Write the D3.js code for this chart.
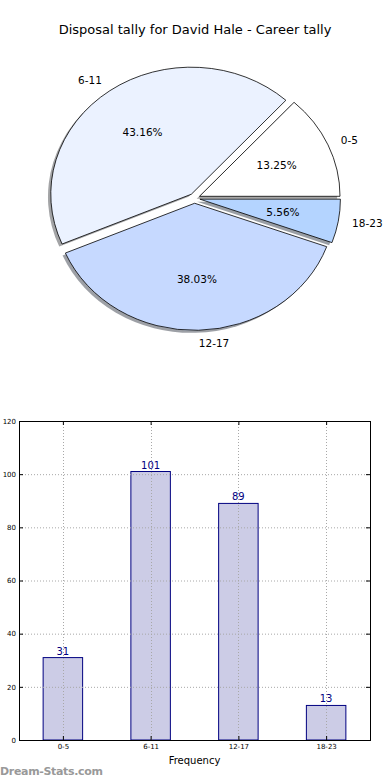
<!DOCTYPE html>
<html><head><meta charset="utf-8">
<script src="https://cdn.jsdelivr.net/npm/d3@7"></script>
<style>html,body{margin:0;padding:0;background:#fff}svg{display:block}</style>
</head><body>
<svg id="c" width="390" height="780"></svg>
<script>
const categories = ["0-5", "6-11", "12-17", "18-23"];
const values = [31, 101, 89, 13];
const sliceColors = ["#ffffff", "#ebf2ff", "#c6d9ff", "#b4d4ff"];
const yTicks = [0, 20, 40, 60, 80, 100, 120];
const title = "Disposal tally for David Hale - Career tally";

const svg = d3.select("#c");
const font = "DejaVu Sans, sans-serif";

svg.append("text").attr("x", 195).attr("y", 34).attr("text-anchor", "middle")
  .attr("font-family", font).attr("font-size", 13).attr("fill", "#000").text(title);

// ---- Pie ----
const cx = 194.5, cy = 198.3, rx = 140.5, ry = 127, explode = 0.039;
const total = d3.sum(values);
const pie = d3.pie().sort(null).startAngle(Math.PI / 2).endAngle(Math.PI / 2 - 2 * Math.PI);
const arcs = pie(values);
const arc = d3.arc().innerRadius(0).outerRadius(1);
const g = svg.append("g").attr("transform", `translate(${cx},${cy})`);
const off = d => { const m = (d.startAngle + d.endAngle) / 2; return [Math.sin(m), -Math.cos(m)]; };

// shadows
g.selectAll("path.sh").data(arcs).join("path").attr("class", "sh")
  .attr("d", arc)
  .attr("transform", d => { const [ux, uy] = off(d); return `translate(${(ux * explode - 0.02) * rx},${(uy * explode + 0.02) * ry}) scale(${rx},${ry})`; })
  .attr("fill", (d, i) => { const c = d3.rgb(sliceColors[i]); return d3.rgb(c.r * 0.3, c.g * 0.3, c.b * 0.3); })
  .attr("fill-opacity", 0.5).attr("stroke", "none");

g.selectAll("path.w").data(arcs).join("path").attr("class", "w")
  .attr("d", arc)
  .attr("transform", d => { const [ux, uy] = off(d); return `translate(${ux * explode * rx},${uy * explode * ry}) scale(${rx},${ry})`; })
  .attr("fill", (d, i) => sliceColors[i])
  .attr("stroke", "#000").attr("stroke-width", 0.8).attr("vector-effect", "non-scaling-stroke");

g.selectAll("text.lab").data(arcs).join("text").attr("class", "lab")
  .attr("x", d => off(d)[0] * (explode + 1.1) * rx)
  .attr("y", d => off(d)[1] * (explode + 1.1) * ry)
  .attr("dy", "0.35em")
  .attr("text-anchor", d => off(d)[0] >= 0 ? "start" : "end")
  .attr("font-family", font).attr("font-size", 10.5).attr("fill", "#000")
  .text((d, i) => categories[i]);

g.selectAll("text.pct").data(arcs).join("text").attr("class", "pct")
  .attr("x", d => off(d)[0] * (explode + 0.6) * rx)
  .attr("y", d => off(d)[1] * (explode + 0.6) * ry)
  .attr("dy", "0.35em").attr("text-anchor", "middle")
  .attr("font-family", font).attr("font-size", 10.5).attr("fill", "#000")
  .text(d => (d.value / total * 100).toFixed(2) + "%");

// ---- Bar chart ----
const L = 19, R = 370, T = 421, B = 740;
const x = d3.scaleLinear().domain([-0.5, categories.length - 0.5]).range([L, R]);
const y = d3.scaleLinear().domain([0, 120]).range([B, T]);
const bw = x(0.45) - x(0);
const bg = svg.append("g");

bg.selectAll("rect").data(values).join("rect")
  .attr("x", (d, i) => x(i) - bw / 2).attr("y", d => y(d))
  .attr("width", bw).attr("height", d => B - y(d))
  .attr("fill", "#ccccE6").attr("stroke", "#000080").attr("stroke-width", 1);

// grid
const grid = bg.append("g").attr("stroke", "#a8a8a8").attr("stroke-width", 1).attr("stroke-dasharray", "1,2");
grid.selectAll("line.gy").data(yTicks).join("line").attr("class", "gy")
  .attr("x1", L).attr("x2", R).attr("y1", d => y(d) + 0.5).attr("y2", d => y(d) + 0.5);
grid.selectAll("line.gx").data(categories).join("line").attr("class", "gx")
  .attr("x1", (d, i) => Math.round(x(i)) + 0.5).attr("x2", (d, i) => Math.round(x(i)) + 0.5)
  .attr("y1", T).attr("y2", B);

// value labels
bg.selectAll("text.v").data(values).join("text").attr("class", "v")
  .attr("x", (d, i) => x(i)).attr("y", d => y(d) - 3)
  .attr("text-anchor", "middle").attr("font-family", font).attr("font-size", 10)
  .attr("fill", "#000080").text(d => d);

// axes
const yAxis = d3.axisLeft(y).tickValues(yTicks).tickSize(-4).tickPadding(3);
const ya = bg.append("g").attr("transform", `translate(${L},0)`).call(yAxis);
ya.select(".domain").remove();
ya.selectAll("text").attr("font-family", font).attr("font-size", 7).attr("fill", "#000");
const yaR = bg.append("g").attr("transform", `translate(${R},0)`).call(d3.axisRight(y).tickValues(yTicks).tickSize(-4).tickFormat(""));
yaR.select(".domain").remove();

const xAxis = d3.axisBottom(x).tickValues(d3.range(categories.length)).tickFormat(i => categories[i]).tickSize(-4).tickPadding(4);
const xa = bg.append("g").attr("transform", `translate(0,${B})`).call(xAxis);
xa.select(".domain").remove();
xa.selectAll("text").attr("font-family", font).attr("font-size", 7).attr("fill", "#000");
const xaT = bg.append("g").attr("transform", `translate(0,${T})`).call(d3.axisTop(x).tickValues(d3.range(categories.length)).tickSize(-4).tickFormat(""));
xaT.select(".domain").remove();

bg.append("rect").attr("x", L + 0.5).attr("y", T + 0.5).attr("width", R - L).attr("height", B - T)
  .attr("fill", "none").attr("stroke", "#000").attr("stroke-width", 1);

svg.append("text").attr("x", 194.5).attr("y", 764).attr("text-anchor", "middle")
  .attr("font-family", font).attr("font-size", 10).attr("fill", "#000").text("Frequency");

svg.append("text").attr("x", 0).attr("y", 775).attr("font-family", "DejaVu Sans, sans-serif")
  .attr("font-weight", "bold").attr("font-size", 11).attr("fill", "#999").attr("textLength", 103)
  .text("Dream-Stats.com");
</script>
</body></html>
